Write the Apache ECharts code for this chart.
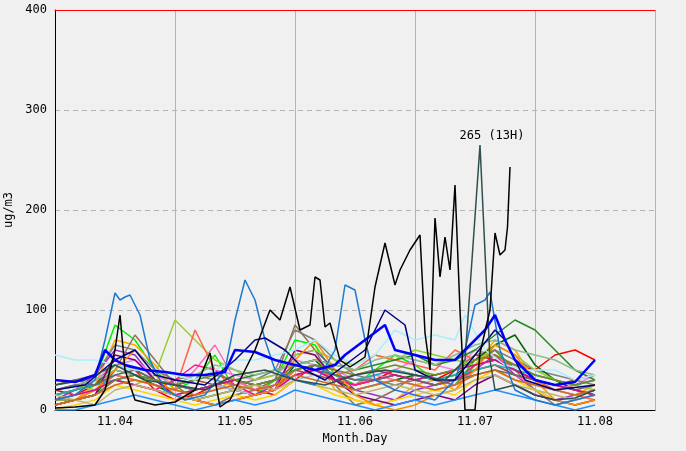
<!DOCTYPE html>
<html><head><meta charset="utf-8">
<script src="https://cdn.jsdelivr.net/npm/echarts@6/dist/echarts.min.js"></script>
<style>body{margin:0;background:#f0f0f0}#c{width:686px;height:451px}</style>
</head><body><div id="c"></div>
<script>
// hours since 11.04 00H; day labels at day centres
var dayLabels = {12:'11.04', 36:'11.05', 60:'11.06', 84:'11.07', 108:'11.08'};

// highlighted station (black), [hour, value]
var blackData = [[0,2],[4,3],[8,5],[10,20],[12,60],[13,95],[14,40],[16,10],[20,5],[24,8],[28,20],[31,57],[33,3],[35,10],[37,30],[40,60],[43,100],[45,90],[47,123],[49,80],[51,85],[52,133],[53,130],[54,83],[55,87],[57,50],[59,43],[62,53],[64,123],[66,167],[68,125],[69,140],[71,160],[73,175],[74,77],[75,40],[76,192],[77,133],[78,173],[79,140],[80,225],[81,100],[82,0],[84,0],[85,57],[87,100],[88,177],[89,155],[90,160],[90.5,183],[91,243]];
var slateData = [[0,25],[6,30],[12,45],[18,30],[24,25],[30,20],[36,35],[42,40],[48,30],[54,25],[60,35],[66,40],[72,35],[78,30],[82,50],[85,265],[87,50],[88,20],[92,25],[96,15],[100,10],[104,12],[108,20]];
var steelData = [[0,10],[4,15],[8,30],[10,70],[12,117],[13,110],[14,113],[15,115],[17,95],[19,50],[22,20],[26,10],[30,15],[34,40],[36,90],[38,130],[40,110],[42,70],[44,40],[48,30],[52,25],[56,60],[58,125],[60,120],[62,70],[64,30],[68,20],[72,15],[76,10],[80,30],[82,60],[84,105],[86,110],[87,118],[89,60],[92,20],[96,10],[100,5],[104,10],[108,15]];
var blueData = [[0,30],[4,28],[8,35],[10,60],[12,50],[14,45],[18,40],[22,38],[26,35],[30,35],[34,38],[36,60],[40,58],[44,50],[48,45],[52,40],[56,45],[58,55],[62,70],[66,85],[68,60],[72,55],[76,50],[80,50],[84,70],[86,80],[88,95],[90,70],[92,50],[96,30],[100,25],[104,28],[108,50]];
var navyData = [[0,20],[6,25],[12,50],[16,60],[20,35],[24,30],[30,25],[36,50],[40,70],[42,72],[46,60],[50,40],[54,30],[58,45],[62,60],[64,80],[66,100],[70,85],[72,40],[76,30],[80,30],[84,55],[88,80],[90,70],[94,30],[100,20],[108,25]];
var cyanData = [[0,55],[4,50],[8,50],[12,45],[16,40],[20,40],[24,35],[28,30],[32,40],[36,50],[40,50],[44,55],[48,60],[52,70],[56,55],[60,45],[64,55],[68,80],[72,70],[76,75],[80,70],[82,95],[86,60],[90,45],[94,40],[100,40],[104,30],[108,35]];

// background stations, every 4 hours from 0 to 108
var bgColors = ['#ff0000','#00ee00','#ffa500','#9932cc','#ee82ee','#808080','#006400','#8b7355','#ff69b4','#9acd32','#ff6347','#228b22','#a0522d','#b0c4de','#ff1493','#ffd700','#8fbc8f','#800080','#20b2aa','#ff8c00','#696969','#c71585','#6b8e23','#bdb76b','#1e90ff','#d2691e'];
var bgValues = [
[20,15,25,50,40,20,10,15,25,30,20,15,30,45,35,25,30,40,35,30,40,55,50,45,40,55,60,50],
[10,15,30,85,70,40,20,30,55,20,15,30,70,65,35,25,40,55,45,30,25,50,60,40,30,20,25,30],
[5,10,25,70,65,45,20,15,20,30,25,20,60,55,20,10,5,10,25,30,20,45,70,60,30,20,15,25],
[10,20,35,60,55,30,15,20,25,20,15,25,55,60,40,20,15,10,20,25,30,40,55,35,20,10,15,20],
[15,20,30,45,50,35,25,30,40,35,30,35,50,45,40,30,35,40,50,45,40,60,55,45,35,30,25,35],
[25,30,35,65,60,40,30,35,30,25,30,40,80,70,50,35,30,25,30,35,40,55,60,50,40,35,30,25],
[5,10,15,40,35,25,15,10,15,20,15,20,45,50,30,20,25,30,35,30,35,50,65,75,45,30,20,15],
[15,20,25,40,75,50,25,10,5,15,20,30,85,60,25,5,10,20,35,30,25,45,60,40,20,5,10,15],
[10,15,20,35,30,25,20,40,65,30,20,25,40,45,30,25,35,30,25,20,25,40,45,35,25,20,25,30],
[20,25,20,30,25,35,90,70,50,40,30,35,55,60,50,45,55,50,60,55,50,45,65,55,40,30,25,20],
[5,10,20,35,30,25,20,80,40,20,15,20,40,45,35,40,55,50,45,40,60,50,55,40,30,20,15,10],
[15,20,25,45,40,30,25,20,25,30,35,40,45,50,45,40,45,50,55,45,50,60,75,90,80,60,40,30],
[25,30,25,30,35,30,25,30,25,20,25,30,40,35,30,25,30,35,30,25,30,40,45,35,30,25,30,35],
[10,15,20,30,25,20,15,20,25,20,15,20,30,35,25,20,25,30,25,20,25,35,40,30,25,20,15,20],
[5,10,15,30,25,20,30,45,40,25,15,20,35,40,30,25,30,35,30,25,30,45,50,40,30,25,20,15],
[0,5,10,25,20,15,10,5,10,15,10,15,30,25,15,10,5,10,15,20,15,30,40,30,20,10,5,10],
[20,25,30,40,35,30,25,35,45,40,35,40,45,50,45,40,50,55,50,45,55,65,70,60,55,50,40,35],
[5,10,15,55,50,30,15,10,5,10,15,20,60,55,30,15,10,5,10,15,10,25,35,25,15,10,5,10],
[15,20,25,30,35,30,25,20,25,30,25,30,40,45,35,30,35,40,35,30,35,40,45,40,35,30,25,30],
[5,10,20,40,60,35,15,10,5,10,15,20,50,70,40,15,5,0,5,15,20,40,65,55,30,10,5,10],
[20,25,25,35,40,30,25,20,25,30,25,30,45,40,35,30,30,35,30,25,30,35,40,35,30,25,20,25],
[10,15,20,30,25,20,15,20,25,30,25,20,35,40,30,35,40,35,30,35,40,45,50,40,30,25,20,15],
[10,10,15,30,35,30,25,30,35,30,25,30,40,45,40,35,40,45,40,35,40,50,55,45,35,30,25,30],
[15,10,5,20,25,20,15,10,15,20,25,20,30,25,20,15,20,25,20,15,20,30,35,25,20,15,10,15],
[0,0,5,10,15,10,5,0,5,10,5,10,20,15,10,5,0,5,10,5,10,15,20,15,10,5,0,5],
[5,10,15,25,30,25,20,15,20,25,20,25,35,30,25,20,25,30,25,20,25,35,40,30,25,20,15,20]
];

function line(name, data, color, width, extra) {
  var s = {name: name, type: 'line', data: data, symbol: 'none', z: 3,
    lineStyle: {color: color, width: width || 1.5}, itemStyle: {color: color}, animation: false};
  return Object.assign(s, extra || {});
}

var series = [];
bgValues.forEach(function (vals, i) {
  series.push(line('s' + i, vals.map(function (v, k) { return [k * 4, v]; }), bgColors[i], 1.5));
});
series.push(line('cyan', cyanData, '#aaeeff', 1.5));
series.push(line('steel', steelData, '#1e78d0', 1.5));
series.push(line('navy', navyData, '#000080', 1.5));
series.push(line('slate', slateData, '#2f4f4f', 1.5, {
  markPoint: {symbol: 'circle', symbolSize: 0, data: [{coord: [85, 265]}],
    label: {show: true, formatter: '265 (13H)', position: 'top', color: '#000',
      fontFamily: 'DejaVu Sans Mono', fontSize: 12, offset: [12, 2]}}
}));
series.push(line('blue', blueData, '#0000ff', 2.5));
series.push(line('black', blackData, '#000000', 1.5));

var myChart = echarts.init(document.getElementById('c'), null, {renderer: 'canvas'});
var font = 'DejaVu Sans Mono';
myChart.setOption({
  backgroundColor: '#f0f0f0',
  animation: false,
  grid: {left: 55, right: 31, top: 10, bottom: 41, outerBoundsMode: 'none', containLabel: false},
  xAxis: [{
    type: 'value', min: 0, max: 120, interval: 12,
    name: 'Month.Day', nameLocation: 'middle', nameGap: 22,
    nameTextStyle: {fontFamily: font, fontSize: 12, color: '#000'},
    axisLine: {lineStyle: {color: '#000'}}, axisTick: {show: false},
    axisLabel: {fontFamily: font, fontSize: 12, color: '#000', margin: 6,
      formatter: function (v) { return dayLabels[v] || ''; }},
    splitLine: {show: true, lineStyle: {color: ['#b4b4b4', 'rgba(0,0,0,0)'], width: 1}}
  }, {
    type: 'value', min: 0, max: 120, position: 'top',
    axisLine: {show: true, lineStyle: {color: '#ff0000'}},
    axisTick: {show: false}, axisLabel: {show: false}, splitLine: {show: false}
  }],
  yAxis: {
    type: 'value', min: 0, max: 400, interval: 100,
    name: 'ug/m3', nameLocation: 'middle', nameGap: 38,
    nameTextStyle: {fontFamily: font, fontSize: 12, color: '#000'},
    axisLine: {show: true, lineStyle: {color: '#000'}}, axisTick: {show: false},
    axisLabel: {fontFamily: font, fontSize: 12, color: '#000', margin: 8},
    splitLine: {lineStyle: {color: '#b4b4b4', type: [5, 4]}}
  },
  series: series
});
</script></body></html>
